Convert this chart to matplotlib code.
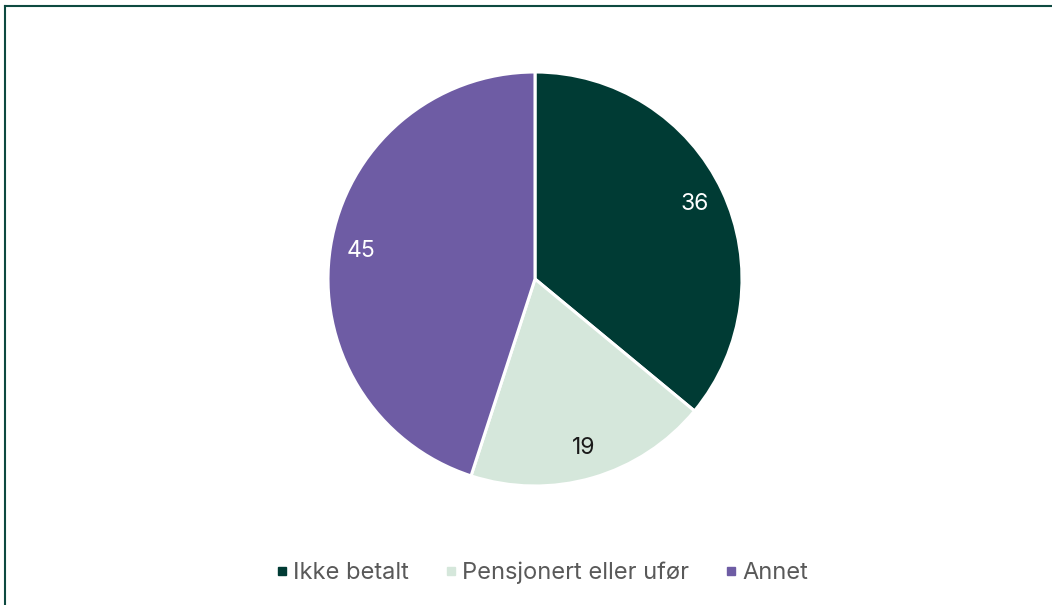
import matplotlib
matplotlib.use("Agg")
import matplotlib.pyplot as plt
from matplotlib.lines import Line2D
import numpy as np

categories = ["Ikke betalt", "Pensjonert eller ufør", "Annet"]
values = [36, 19, 45]
colors = ["#003b34", "#d5e7db", "#6e5ca4"]
label_colors = ["white", "#1a1a1a", "white"]

plt.rcParams['font.family'] = ['Inter', 'DejaVu Sans']

W, H = 1052, 605
fig = plt.figure(figsize=(W / 100, H / 100), dpi=100)
fig.patch.set_facecolor("white")

cx, cy, r = 535, 279, 207
ax = fig.add_axes([(cx - r) / W, (H - cy - r) / H, 2 * r / W, 2 * r / H])
wedges, texts = ax.pie(values, colors=colors, startangle=90, counterclock=False,
                       radius=1.0, labels=[str(v) for v in values], labeldistance=0.85,
                       wedgeprops=dict(edgecolor="white", linewidth=2.2),
                       textprops=dict(fontsize=16.5))
for t, c in zip(texts, label_colors):
    t.set_color(c)
    t.set_ha("center")
    t.set_va("center")
ax.set_xlim(-1, 1)
ax.set_ylim(-1, 1)
ax.set_aspect("equal")
ax.axis("off")

handles = [Line2D([0], [0], marker="s", linestyle="none", markersize=6,
                  markerfacecolor=c, markeredgecolor=c) for c in colors]
fig.legend(handles, categories, loc="center", bbox_to_anchor=(539 / W, 1 - 573 / H),
           ncol=3, frameon=False, fontsize=17, handletextpad=0.0, columnspacing=1.25,
           labelcolor="#595959", handlelength=1.0)

border_color = "#0e4a41"
fig.add_artist(Line2D([5 / W, 1], [1 - 6 / H, 1 - 6 / H], color=border_color, linewidth=1.5,
                      transform=fig.transFigure))
fig.add_artist(Line2D([5 / W, 5 / W], [0, 1 - 6 / H], color=border_color, linewidth=1.5,
                      transform=fig.transFigure))

fig.savefig("out.png", dpi=100, facecolor="white")
